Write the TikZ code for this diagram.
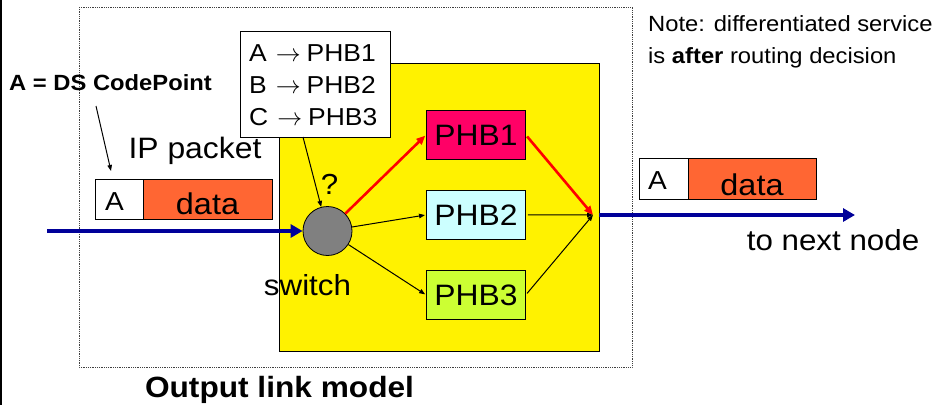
\documentclass[tikz,border=0pt]{standalone}
\usepackage{fontspec}
\setmainfont{Liberation Sans}[FakeStretch=1.08]
\usetikzlibrary{arrows.meta}
\definecolor{dsblue}{HTML}{000099}
\definecolor{dsorange}{HTML}{FF6633}
\definecolor{phbone}{HTML}{FF0066}
\definecolor{phbtwo}{HTML}{CCFFFF}
\definecolor{phbthree}{HTML}{CCFF33}
\definecolor{swgray}{HTML}{808080}
\newcommand{\fsz}[1]{\fontsize{#1}{#1}\selectfont}
\newcommand{\maparrow}{\hspace{9pt}$\rightarrow$\hspace{6pt}}
\begin{document}
\begin{tikzpicture}[x=1pt,y=-1pt,
  box/.style={draw=black, line width=0.8pt, inner sep=0pt, anchor=north west},
  phb/.style={box, minimum width=99, minimum height=49, font=\fsz{29.5}},
  lbl/.style={inner sep=0pt, anchor=base},
  bluearrow/.style={draw=dsblue, line width=4pt, -{Triangle[length=12pt,width=13pt]}},
  redarrow/.style={draw=red, line width=2.6pt, -{Triangle[length=9pt,width=7.5pt]}},
  thinarrow/.style={draw=black, line width=1pt, -{Triangle[length=6pt,width=4.5pt]}},
  dotbox/.style={draw=black!75, line width=0.8pt, densely dotted}]
\useasboundingbox (0,0) rectangle (939,405);
\fill[black] (0,0) rectangle (2,405);
% output link model frame
\draw[dotbox] (79,7) rectangle (632,367);
% yellow scheduler box
\node[box, fill=yellow, minimum width=320, minimum height=288] (yb) at (279,63) {};
% PHB boxes
\node[phb, fill=phbone] (p1) at (426,110) {PHB1};
\node[phb, fill=phbtwo] (p2) at (426,190) {PHB2};
\node[phb, fill=phbthree] (p3) at (426,270) {PHB3};
% switch
\node[circle, draw=black, line width=0.8pt, fill=swgray, minimum size=49, inner sep=0pt] (sw) at (327.5,231) {};
% legend
\node[box, fill=white, minimum width=150, minimum height=106] (lg) at (240,31) {};
\node[lbl, anchor=base west, font=\fsz{24.5}] (lg1) at (249,61.7) {A\maparrow PHB1};
\node[lbl, anchor=base west, font=\fsz{24.5}] (lg2) at (249,93.5) {B\maparrow PHB2};
\node[lbl, anchor=base west, font=\fsz{24.5}] (lg3) at (249,125.5) {C\maparrow PHB3};
% incoming packet
\node[box, fill=white, minimum width=48, minimum height=40] (ina) at (95,179) {};
\node[box, fill=dsorange, minimum width=129, minimum height=40] (ind) at (143,179) {};
\node[lbl, anchor=base west, font=\fsz{26}] (inat) at (105,210) {A};
\node[lbl, font=\fsz{30}] (indt) at (207.5,214) {data};
% outgoing packet
\node[box, fill=white, minimum width=49, minimum height=41] (outa) at (639,158) {};
\node[box, fill=dsorange, minimum width=128, minimum height=41] (outd) at (688,158) {};
\node[lbl, anchor=base west, font=\fsz{26}] (outat) at (648,189) {A};
\node[lbl, font=\fsz{30}] (outdt) at (752,195) {data};
% texts
\node[lbl, font=\bfseries\fsz{22}] (dscp) at (110.5,90) {A = DS CodePoint};
\node[lbl, font=\fsz{29.5}] (ipp) at (195,158) {IP packet};
\node[lbl, font=\fsz{29}] (qm) at (329.5,194.5) {?};
\node[lbl, font=\fsz{29}] (swt) at (307.5,295) {switch};
\node[lbl, font=\fsz{29}] (tnn) at (833,250) {to next node};
\node[lbl, font=\bfseries\fsz{29.3}] (olm) at (279.5,397) {Output link model};
\node[lbl, anchor=base west, font=\fsz{22}] (note1) at (648,31.7) {Note: differentiated service};
\node[lbl, anchor=base west, font=\fsz{22}] (note2) at (648,63) {is \textbf{after} routing decision};
% connector points
\coordinate (dsfrom) at (96,106);
\coordinate (dsto) at (111,171);
\coordinate (lgfrom) at (303,137);
\coordinate (inA) at (47,231);
\coordinate (mg) at (593,215);
\coordinate (o1) at (599,215);
\coordinate (o2) at (855,215);
% connectors
\draw[thinarrow] (dsfrom) -- (dsto);
\draw[thinarrow] (lgfrom) -- (sw);
\draw[bluearrow] (inA) -- (sw.west);
\draw[redarrow, shorten >=1pt] (sw) -- (p1.west);
\draw[thinarrow, shorten >=1pt] (sw) -- (p2.west);
\draw[thinarrow, shorten >=1pt] (sw) -- (p3.west);
\draw[redarrow, shorten <=2pt] (p1.east) -- (mg);
\draw[thinarrow, shorten <=2pt] (p2.east) -- (mg);
\draw[thinarrow, shorten <=2pt] (p3.east) -- (mg);
\draw[bluearrow] (o1) -- (o2);
\end{tikzpicture}
\end{document}
